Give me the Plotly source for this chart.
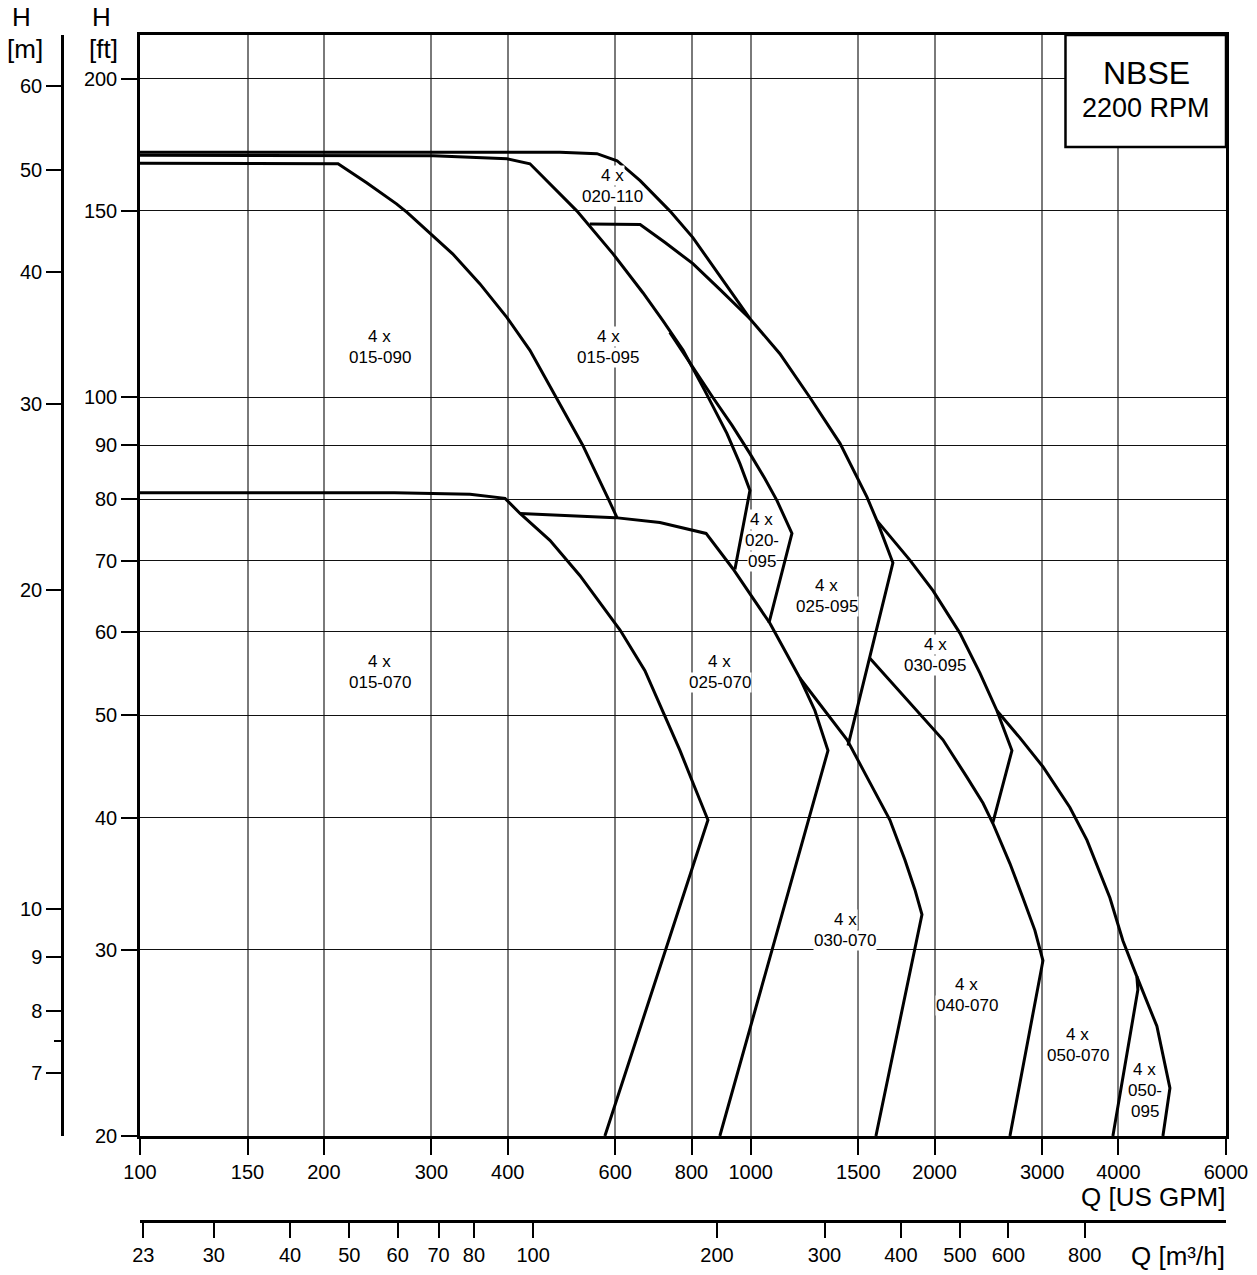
import numpy as np
import plotly.graph_objects as go

# ---------------- data: Q in US GPM, H in ft ----------------
q_015_070 = [100, 261, 347, 396, 419, 469, 525, 611, 671, 718, 766, 801, 851, 577]
h_015_070 = [81.2, 81.2, 80.9, 80.2, 77.6, 73.2, 67.8, 60.2, 55.1, 50.5, 46.3, 43.4, 39.8, 20.0]

q_025_070 = [419, 600, 710, 845, 935, 1075, 1204, 1274, 1338, 890]
h_025_070 = [77.6, 76.9, 76.1, 74.3, 68.8, 61.1, 54.2, 50.5, 46.3, 20.0]

q_030_070 = [1204, 1438, 1550, 1690, 1788, 1857, 1907, 1603]
h_030_070 = [54.2, 47.4, 43.7, 39.8, 36.5, 34.2, 32.4, 20.0]

q_040_070 = [1567, 1892, 2064, 2259, 2400, 2492, 2657, 2790, 2919, 3009, 2657]
h_040_070 = [56.6, 50.2, 47.4, 43.7, 41.3, 39.5, 36.2, 33.6, 31.3, 29.3, 20.0]

q_050_070 = [2530, 2759, 3009, 3331, 3552, 3873, 4068, 4288, 4304, 3917]
h_050_070 = [50.5, 47.6, 44.7, 40.9, 38.1, 33.6, 30.6, 28.3, 27.5, 20.0]

q_050_095 = [4288, 4624, 4857, 4730]
h_050_095 = [28.3, 25.4, 22.2, 20.0]

q_015_090 = [100, 211, 235, 263, 274, 302, 325, 360, 399, 435, 478, 531, 584, 604]
h_015_090 = [166.4, 166.2, 159.5, 152.3, 149.4, 142.1, 136.6, 128.0, 118.9, 110.7, 100.3, 90.0, 80.2, 76.9]

q_015_095 = [100, 302, 399, 435, 519, 595, 666, 718, 775, 841, 914, 960, 997, 942]
h_015_095 = [169.3, 169.1, 168.0, 166.2, 150.0, 136.6, 125.5, 118.1, 110.7, 101.4, 92.4, 86.5, 81.6, 68.7]

q_020_110 = [100, 487, 560, 604, 659, 737, 804, 907, 997]
h_020_110 = [170.4, 170.4, 169.9, 167.3, 160.2, 150.0, 141.5, 128.0, 118.6]

q_020_095 = [737, 810, 867, 932, 997, 1055, 1104, 1168, 1071]
h_020_095 = [115.1, 105.9, 99.9, 94.0, 88.4, 83.7, 79.8, 74.3, 61.1]

q_025_095 = [545, 659, 724, 804, 890, 997, 1116, 1250, 1400, 1550, 1609, 1709, 1443]
h_025_095 = [145.8, 145.6, 140.0, 133.7, 126.4, 118.6, 109.9, 99.9, 90.4, 80.4, 76.4, 69.7, 46.8]

q_030_095 = [1609, 1822, 1988, 2200, 2373, 2530, 2677, 2492]
h_030_095 = [76.4, 70.1, 65.6, 59.8, 54.8, 50.5, 46.3, 39.6]

curves = [
    (q_015_070, h_015_070), (q_025_070, h_025_070), (q_030_070, h_030_070),
    (q_040_070, h_040_070), (q_050_070, h_050_070), (q_050_095, h_050_095),
    (q_015_090, h_015_090), (q_015_095, h_015_095), (q_020_110, h_020_110),
    (q_020_095, h_020_095), (q_025_095, h_025_095), (q_030_095, h_030_095),
]

# region labels
label_lines = [["4 x", "015-090"], ["4 x", "015-095"], ["4 x", "020-110"], ["4 x", "020-", "095"],
               ["4 x", "025-095"], ["4 x", "030-095"], ["4 x", "015-070"], ["4 x", "025-070"],
               ["4 x", "030-070"], ["4 x", "040-070"], ["4 x", "050-070"], ["4 x", "050-", "095"]]
label_q = [247, 584, 593, 1043, 1333, 2003, 247, 890, 1427, 2259, 3433, 4420]
label_h = [111.4, 111.4, 158.5, 73.2, 64.9, 57.0, 54.9, 54.9, 31.3, 27.2, 24.4, 22.1]

# axes ticks
gpm_ticks = [100, 150, 200, 300, 400, 600, 800, 1000, 1500, 2000, 3000, 4000, 6000]
ft_ticks = [20, 30, 40, 50, 60, 70, 80, 90, 100, 150, 200]
m_ticks = [7, 8, 9, 10, 20, 30, 40, 50, 60]
m3h_ticks = [23, 30, 40, 50, 60, 70, 80, 100, 200, 300, 400, 500, 600, 800]

Q_MIN, Q_MAX = 100, 6000
H_MIN, H_MAX = 20, 220
FT_PER_M = 3.28084
GPM_PER_M3H = 4.402868

# ---------------- layout geometry ----------------
W, H = 1257, 1275
ML, MR, MT, MB = 0, 31, 35, 10
PW, PH = W - ML - MR, H - MT - MB
PLOT_L, PLOT_B = 140, 1136          # pixel position of plot-area left / bottom edges


def pxx(x):
    return (x - ML) / PW


def pyy(y):
    return (H - MB - y) / PH


FONT = "Liberation Sans, Arial, Helvetica, sans-serif"
LABEL_SIZE = 17
LINE_H = 21

fig = go.Figure()
for q, h in curves:
    fig.add_trace(go.Scatter(x=q, y=h, mode="lines", line=dict(color="black", width=3),
                             showlegend=False, hoverinfo="skip"))
# dummy traces to register secondary axes
fig.add_trace(go.Scatter(x=[None], y=[None], xaxis="x", yaxis="y2", showlegend=False))
fig.add_trace(go.Scatter(x=[None], y=[None], xaxis="x2", yaxis="y", showlegend=False))

tickfont = dict(family=FONT, size=20, color="black")

fig.update_layout(
    width=W, height=H,
    margin=dict(l=ML, r=MR, t=MT, b=MB, autoexpand=False),
    paper_bgcolor="white", plot_bgcolor="white",
    font=dict(family=FONT, color="black"),
    xaxis=dict(type="log", range=[np.log10(Q_MIN), np.log10(Q_MAX)],
               domain=[pxx(PLOT_L), 1], anchor="y",
               tickmode="array", tickvals=gpm_ticks, ticktext=[str(v) for v in gpm_ticks],
               ticks="outside", ticklen=16, tickwidth=2, tickcolor="black",
               tickfont=tickfont, showline=True, linecolor="black", linewidth=2.5, mirror=True,
               showgrid=True, gridcolor="#7a7a7a", gridwidth=1.5, zeroline=False),
    yaxis=dict(type="log", range=[np.log10(H_MIN), np.log10(H_MAX)],
               domain=[pyy(PLOT_B), 1], anchor="x",
               tickmode="array", tickvals=ft_ticks, ticktext=[str(v) for v in ft_ticks],
               ticks="outside", ticklen=16, tickwidth=2, tickcolor="black",
               tickfont=tickfont, showline=True, linecolor="black", linewidth=2.5, mirror=True,
               showgrid=True, gridcolor="#111111", gridwidth=1, zeroline=False),
    yaxis2=dict(type="log", overlaying="y", anchor="free", position=pxx(62), side="left",
                range=[np.log10(H_MIN / FT_PER_M), np.log10(H_MAX / FT_PER_M)],
                tickmode="array", tickvals=m_ticks, ticktext=[str(v) for v in m_ticks],
                ticks="outside", ticklen=15, tickwidth=2, tickcolor="black",
                tickfont=tickfont, showline=True, linecolor="black", linewidth=2.5,
                showgrid=False, zeroline=False,
                minor=dict(tickmode="array", tickvals=[7.5], ticks="outside", ticklen=7,
                           tickwidth=1.5, tickcolor="black", showgrid=False)),
    xaxis2=dict(type="log", overlaying="x", anchor="free", position=pyy(1221), side="bottom",
                range=[np.log10(Q_MIN / GPM_PER_M3H), np.log10(Q_MAX / GPM_PER_M3H)],
                tickmode="array", tickvals=m3h_ticks, ticktext=[str(v) for v in m3h_ticks],
                ticks="outside", ticklen=15, tickwidth=2, tickcolor="black",
                tickfont=tickfont, showline=True, linecolor="black", linewidth=2.5,
                showgrid=False, zeroline=False),
)

# region labels: one annotation per text line, each with a tight white background
for lines, q, h in zip(label_lines, label_q, label_h):
    n = len(lines)
    for i, s in enumerate(lines):
        fig.add_annotation(x=np.log10(q), y=np.log10(h), xref="x", yref="y", text=s,
                           yshift=-(i - (n - 1) / 2) * LINE_H,
                           showarrow=False, xanchor="center", yanchor="middle",
                           bgcolor="white", borderpad=0,
                           font=dict(family=FONT, size=LABEL_SIZE, color="black"))

# title box
fig.add_shape(type="rect", xref="x domain", yref="y domain", x0=0.8522, x1=1.0, y0=0.8983, y1=1.0,
              fillcolor="white", line=dict(color="black", width=2.5), layer="above")
fig.add_annotation(xref="paper", yref="paper", x=pxx(1146), y=pyy(73), text="NBSE",
                   showarrow=False, xanchor="center", yanchor="middle",
                   font=dict(family=FONT, size=32, color="black"))
fig.add_annotation(xref="paper", yref="paper", x=pxx(1146), y=pyy(108), text="2200 RPM",
                   showarrow=False, xanchor="center", yanchor="middle",
                   font=dict(family=FONT, size=27, color="black"))

# axis titles
axis_titles = [
    ("H", 21, 17, "center"), ("[m]", 25, 49, "center"),
    ("H", 101, 17, "center"), ("[ft]", 103, 49, "center"),
    ("Q [US GPM]", 1227, 1197, "right"), ("Q [m³/h]", 1227, 1256, "right"),
]
for txt, x, y, al in axis_titles:
    fig.add_annotation(xref="paper", yref="paper", x=pxx(x), y=pyy(y), text=txt,
                       showarrow=False, xanchor=al, yanchor="middle",
                       font=dict(family=FONT, size=26, color="black"))

fig.write_html("out.html", config={"displayModeBar": False},
               post_script="document.body.style.margin='0';document.body.style.overflow='hidden';")
